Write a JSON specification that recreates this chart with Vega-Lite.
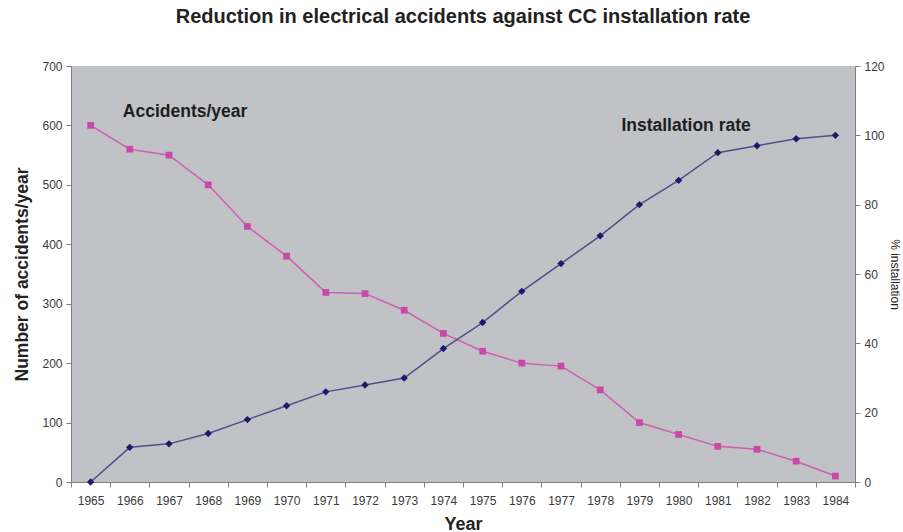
{
  "$schema": "https://vega.github.io/schema/vega-lite/v6.json",
  "width": 784,
  "height": 416,
  "autosize": "none",
  "padding": {"left": 71, "top": 66, "right": 48, "bottom": 50},
  "background": "white",
  "config": {
    "font": "Liberation Sans",
    "view": {"fill": "#c1c2c6", "stroke": null},
    "axis": {"grid": false, "domainColor": "#7f7f7f", "tickColor": "#7f7f7f", "labelColor": "#3a3a3a", "labelFontSize": 12, "titleColor": "#222222", "tickSize": 5, "labelPadding": 4}
  },
  "title": {"text": "Reduction in electrical accidents against CC installation rate", "fontSize": 20, "fontWeight": "bold", "color": "#222222", "anchor": "middle", "offset": 33},
  "data": {"values": [
    {"year": "1965", "accidents": 600, "installation": 0},
    {"year": "1966", "accidents": 560, "installation": 10},
    {"year": "1967", "accidents": 550, "installation": 11},
    {"year": "1968", "accidents": 500, "installation": 14},
    {"year": "1969", "accidents": 430, "installation": 18},
    {"year": "1970", "accidents": 380, "installation": 22},
    {"year": "1971", "accidents": 319, "installation": 26},
    {"year": "1972", "accidents": 317, "installation": 28},
    {"year": "1973", "accidents": 289, "installation": 30},
    {"year": "1974", "accidents": 250, "installation": 38.5},
    {"year": "1975", "accidents": 220, "installation": 46},
    {"year": "1976", "accidents": 200, "installation": 55},
    {"year": "1977", "accidents": 195, "installation": 63},
    {"year": "1978", "accidents": 155, "installation": 71},
    {"year": "1979", "accidents": 100, "installation": 80},
    {"year": "1980", "accidents": 80, "installation": 87},
    {"year": "1981", "accidents": 60, "installation": 95},
    {"year": "1982", "accidents": 55, "installation": 97},
    {"year": "1983", "accidents": 35, "installation": 99},
    {"year": "1984", "accidents": 10, "installation": 100}
  ]},
  "encoding": {
    "x": {"field": "year", "type": "ordinal", "scale": {"type": "band", "paddingInner": 0, "paddingOuter": 0},
      "axis": {"title": "Year", "titleFontSize": 18, "titleFontWeight": "bold", "labelAngle": 0, "tickBand": "extent", "titlePadding": 9, "labelFontSize": 12, "labelPadding": 8}}
  },
  "layer": [
    {
      "encoding": {
        "y": {"type": "quantitative", "scale": {"domain": [0, 700]},
          "axis": {"orient": "left", "title": "Number of accidents/year", "titleFontSize": 17.5, "titleFontWeight": "bold", "values": [0,100,200,300,400,500,600,700], "titlePadding": 10}}
      },
      "layer": [
        {"mark": {"type": "line", "color": "#cf5fb3", "strokeWidth": 1.5}, "encoding": {"y": {"field": "accidents", "type": "quantitative"}}},
        {"mark": {"type": "point", "shape": "square", "filled": true, "size": 45, "color": "#c948a8", "opacity": 1}, "encoding": {"y": {"field": "accidents", "type": "quantitative"}}},
        {"data": {"values": [{"label": "Accidents/year"}]}, "mark": {"type": "text", "fontSize": 17.5, "fontWeight": "bold", "color": "#1e1e1e", "align": "left", "dx": -7}, "encoding": {"text": {"field": "label"}, "x": {"datum": "1966"}, "y": {"datum": 623}}}
      ]
    },
    {
      "encoding": {
        "y": {"type": "quantitative", "scale": {"domain": [0, 120]},
          "axis": {"orient": "right", "title": "% installation", "titleFontSize": 12, "titleFontWeight": "normal", "values": [0,20,40,60,80,100,120], "titlePadding": 3}}
      },
      "layer": [
        {"mark": {"type": "line", "color": "#4f4f8c", "strokeWidth": 1.5}, "encoding": {"y": {"field": "installation", "type": "quantitative"}}},
        {"mark": {"type": "point", "shape": "diamond", "filled": true, "size": 55, "color": "#1b1b6b", "opacity": 1}, "encoding": {"y": {"field": "installation", "type": "quantitative"}}},
        {"data": {"values": [{"label": "Installation rate"}]}, "mark": {"type": "text", "fontSize": 17.5, "fontWeight": "bold", "color": "#1e1e1e", "align": "left", "dx": -18}, "encoding": {"text": {"field": "label"}, "x": {"datum": "1979"}, "y": {"datum": 102.7}}}
      ]
    }
  ],
  "resolve": {"scale": {"y": "independent"}}
}
